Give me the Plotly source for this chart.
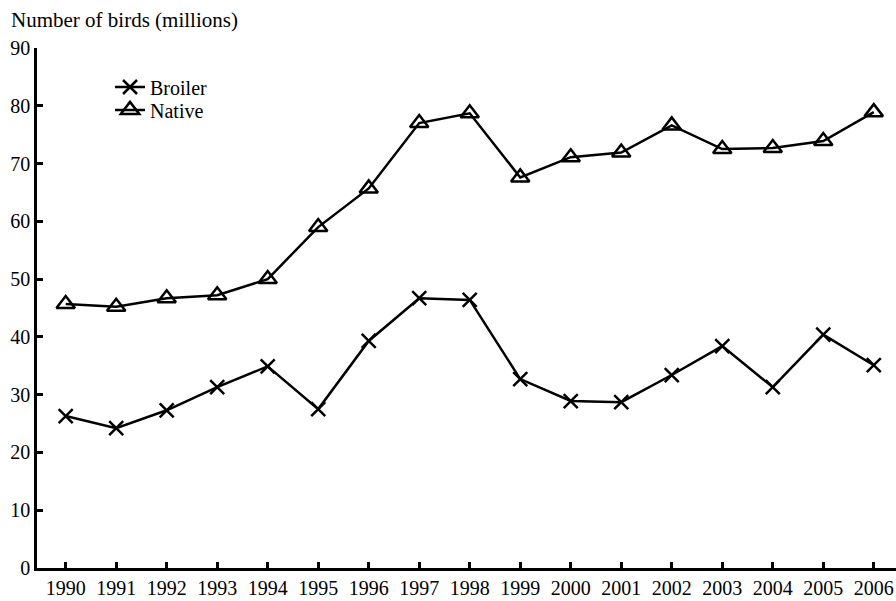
import plotly.graph_objects as go

years = list(range(1990, 2007))
broiler = [26.3, 24.2, 27.3, 31.3, 34.9, 27.5, 39.3, 46.7, 46.4, 32.7, 28.9, 28.7, 33.4, 38.4, 31.3, 40.4, 35.1]
native = [45.7, 45.2, 46.7, 47.2, 50.0, 59.0, 65.7, 77.0, 78.7, 67.6, 71.1, 71.9, 76.6, 72.5, 72.7, 73.9, 78.9]
y_ticks = [0, 10, 20, 30, 40, 50, 60, 70, 80, 90]

FONT = "Liberation Serif"

fig = go.Figure()
fig.add_trace(go.Scatter(
    x=years, y=broiler, name="Broiler", mode="lines+markers", legend="legend",
    line=dict(color="black", width=2.5),
    marker=dict(symbol="x-thin-open", size=14, color="black", line=dict(color="black", width=2.5)),
))
fig.add_trace(go.Scatter(
    x=years, y=native, name="Native", mode="lines+markers", legend="legend2",
    line=dict(color="black", width=2.5),
    marker=dict(symbol="triangle-up-open", size=16, color="black", line=dict(color="black", width=2.5)),
))

leg_common = dict(xanchor="left", yanchor="middle", bgcolor="rgba(0,0,0,0)",
                  font=dict(family=FONT, size=20, color="black"))

# plot area: page x 37..896, page y 48..568
fig.update_layout(
    width=896, height=601,
    margin=dict(l=37, r=0, t=48, b=33),
    paper_bgcolor="white", plot_bgcolor="white",
    font=dict(family=FONT, size=20, color="black"),
    showlegend=True,
    legend=dict(x=0.085, y=0.925, **leg_common),
    legend2=dict(x=0.085, y=0.881, **leg_common),
    xaxis=dict(range=[1989.432, 2006.44], tickmode="array", tickvals=years,
               ticktext=[str(y) for y in years], ticks="inside", ticklen=6, tickwidth=2.5,
               tickcolor="black", showline=True, linecolor="black", linewidth=2.5,
               showgrid=False, zeroline=False, tickfont=dict(family=FONT, size=20)),
    yaxis=dict(range=[0, 90], tickmode="array", tickvals=y_ticks,
               ticks="inside", ticklen=6, tickwidth=2.5, tickcolor="black",
               showline=True, linecolor="black", linewidth=2.5,
               showgrid=False, zeroline=False, tickfont=dict(family=FONT, size=20)),
    annotations=[dict(text="Number of birds (millions)", xref="paper", yref="paper",
                      x=-0.0325, y=1.054, xanchor="left", yanchor="middle", showarrow=False,
                      font=dict(family=FONT, size=21))],
)

fig.write_html(
    "out.html",
    config={"displayModeBar": False},
    post_script="document.body.style.margin='0';document.body.style.overflow='hidden';",
)
